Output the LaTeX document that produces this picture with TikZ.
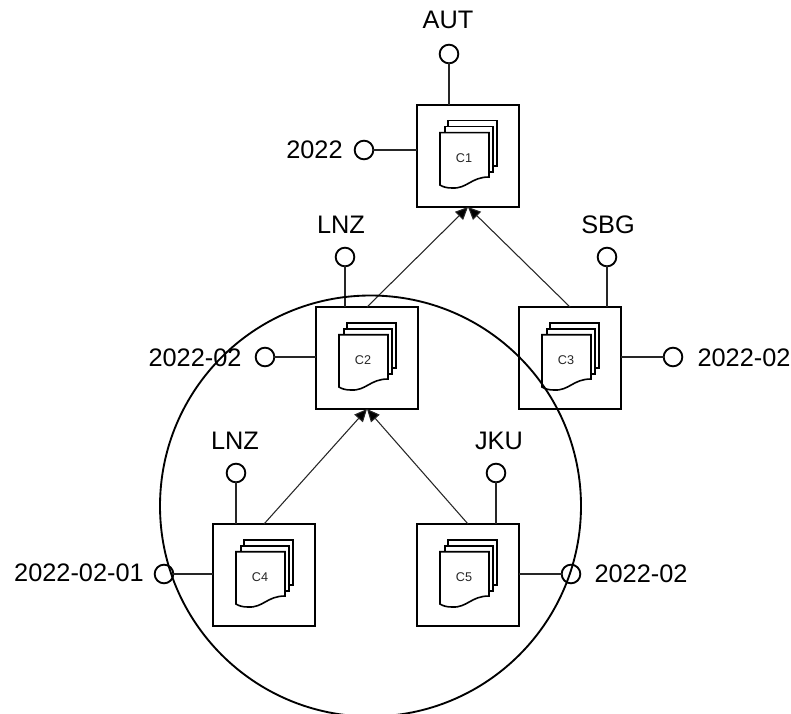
\documentclass[tikz,border=0pt]{standalone}
\usepackage{fontspec}
\setmainfont{Liberation Sans}
\usetikzlibrary{arrows.meta,calc}
\tikzset{
  cube/.style={draw=black,line width=1.6pt,minimum width=76.5pt,minimum height=76.5pt,inner sep=0pt,outer sep=0pt,anchor=north west},
  dot/.style={circle,draw=black,line width=1.4pt,minimum size=14pt,inner sep=0pt,outer sep=0pt},
  lab/.style={font=\fontsize{19pt}{20pt}\selectfont,inner sep=0pt,text=black},
  stub/.style={line width=0.8pt,draw=black!85},
  arc/.style={line width=0.8pt,draw=black!85,-{Triangle[length=9.5pt,width=8.5pt,fill=black]}},
  sheet/.style={draw=black,line width=1.2pt,fill=white},
  docname/.style={font=\fontsize{9.5pt}{10pt}\selectfont,inner sep=0pt,text=black!85},
  pics/docstack/.style={code={
    \draw[sheet] (30.7,15.7) rectangle (80,60.7);
    \draw[sheet] (27.7,21.7) rectangle (76,66.7);
    \draw[sheet] (23,27.7) -- (72,27.7) -- (72,72)
      .. controls (54,72) and (50,84) .. (35,83)
      .. controls (30,83) and (26,82) .. (23,80) -- cycle;
  }}
}
\begin{document}
\begin{tikzpicture}[x=0.75pt,y=-0.75pt]
\useasboundingbox (0,0) rectangle (791,713);
% boxes
\node[cube] (c1) at (417,105) {};
\node[cube] (c2) at (316,307) {};
\node[cube] (c3) at (519,307) {};
\node[cube] (c4) at (213,524) {};
\node[cube] (c5) at (417,524) {};
% document stacks
\pic at (417,105) {docstack};
\pic at (316,307) {docstack};
\pic at (519,307) {docstack};
\pic at (213,524) {docstack};
\pic at (417,524) {docstack};
\node[docname] (t1) at (464,158) {C1};
\node[docname] (t2) at (363,360) {C2};
\node[docname] (t3) at (566,360) {C3};
\node[docname] (t4) at (260,577) {C4};
\node[docname] (t5) at (464,577) {C5};
% lollipops
\node[dot] (a1) at (449,54) {};
\node[dot] (b1) at (364,150) {};
\node[dot] (a2) at (345,257) {};
\node[dot] (b2) at (265,357) {};
\node[dot] (a3) at (607,257) {};
\node[dot] (b3) at (673,357) {};
\node[dot] (a4) at (236,473) {};
\node[dot] (b4) at (164,574) {};
\node[dot] (a5) at (496,473) {};
\node[dot] (b5) at (571,574) {};
\draw[stub] (a1) -- (a1 |- c1.north);
\draw[stub] (b1) -- (b1 -| c1.west);
\draw[stub] (a2) -- (a2 |- c2.north);
\draw[stub] (b2) -- (b2 -| c2.west);
\draw[stub] (a3) -- (a3 |- c3.north);
\draw[stub] (b3) -- (b3 -| c3.east);
\draw[stub] (a4) -- (a4 |- c4.north);
\draw[stub] (b4) -- (b4 -| c4.west);
\draw[stub] (a5) -- (a5 |- c5.north);
\draw[stub] (b5) -- (b5 -| c5.east);
% labels
\node[lab] (la1) at (448,20) {AUT};
\node[lab] (lb1) at (314.5,150) {2022};
\node[lab] (la2) at (341,225) {LNZ};
\node[lab] (lb2) at (195,358) {2022-02};
\node[lab] (la3) at (608,225) {SBG};
\node[lab] (lb3) at (744,358) {2022-02};
\node[lab] (la4) at (235,441) {LNZ};
\node[lab] (lb4) at (79,573) {2022-02-01};
\node[lab] (la5) at (499,441) {JKU};
\node[lab] (lb5) at (641,574) {2022-02};
% arrows
\draw[arc] (c2.north) -- (c1.south);
\draw[arc] (c3.north) -- (c1.south);
\draw[arc] (c4.north) -- (c2.south);
\draw[arc] (c5.north) -- (c2.south);
% group circle
\begin{scope}
\clip (0,0) rectangle (791,713);
\node[circle,draw=black,line width=1.4pt,minimum size=315.75pt,inner sep=0pt] (group) at (370.5,506) {};
\end{scope}
\end{tikzpicture}
\end{document}
